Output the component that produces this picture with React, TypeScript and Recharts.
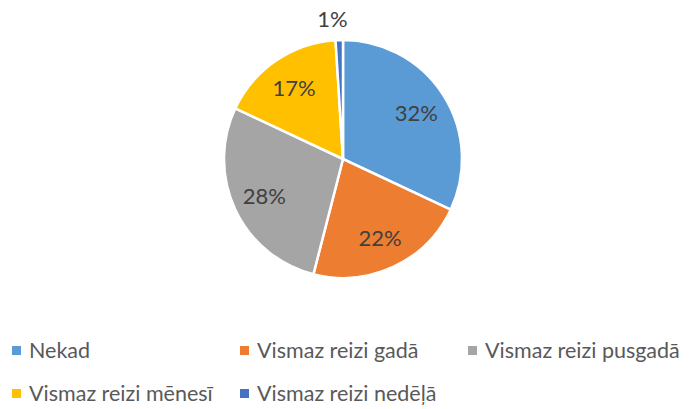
import { PieChart, Pie, Cell, Legend } from "recharts";

const categories = [
  "Nekad",
  "Vismaz reizi gadā",
  "Vismaz reizi pusgadā",
  "Vismaz reizi mēnesī",
  "Vismaz reizi nedēļā",
];
const values = [32, 22, 28, 17, 1];
const colors = ["#5B9BD5", "#ED7D31", "#A5A5A5", "#FFC000", "#4472C4"];

const data = categories.map((name, i) => ({ name, value: values[i] }));
const total = values.reduce((a, b) => a + b, 0);

const RAD = Math.PI / 180;

const renderLabel = (props: any) => {
  const { cx, cy, midAngle, outerRadius, value } = props;
  const small = value / total < 0.05;
  const r = small ? outerRadius + 22 : outerRadius * 0.73;
  const x = cx + r * Math.cos(-midAngle * RAD) + (small ? -6 : 0);
  const y = cy + r * Math.sin(-midAngle * RAD);
  return (
    <text
      x={x}
      y={y}
      fill="#404040"
      fontSize={22}
      fontFamily="Lato"
      textAnchor="middle"
      dominantBaseline="central"
    >
      {`${Math.round((value / total) * 100)}%`}
    </text>
  );
};

const renderLegend = () => (
  <div style={{ position: "relative", width: 691, height: 80 }}>
    {categories.map((name, i) => (
      <div
        key={name}
        style={{
          position: "absolute",
          left: 12 + (i % 3) * 228,
          top: Math.floor(i / 3) * 43,
          display: "flex",
          alignItems: "center",
          fontFamily: "Lato",
          fontSize: 21.5,
          color: "#595959",
          whiteSpace: "nowrap",
        }}
      >
        <span
          style={{
            display: "inline-block",
            width: 9,
            height: 9,
            background: colors[i],
            marginRight: 8,
          }}
        />
        {name}
      </div>
    ))}
  </div>
);

export default function App() {
  return (
    <div style={{ position: "absolute", left: 0, top: 0, width: 691, height: 409, background: "#fff" }}>
      <PieChart width={691} height={409}>
        <Pie
          data={data}
          dataKey="value"
          nameKey="name"
          cx={338}
          cy={154}
          outerRadius={119}
          startAngle={90}
          endAngle={-270}
          stroke="#fff"
          strokeWidth={2.5}
          label={renderLabel}
          labelLine={false}
          isAnimationActive={false}
        >
          {data.map((entry, i) => (
            <Cell key={`cell-${i}`} fill={colors[i]} />
          ))}
        </Pie>
        <Legend
          content={renderLegend}
          wrapperStyle={{ position: "absolute", left: 0, top: 337, width: 691 }}
        />
      </PieChart>
    </div>
  );
}
